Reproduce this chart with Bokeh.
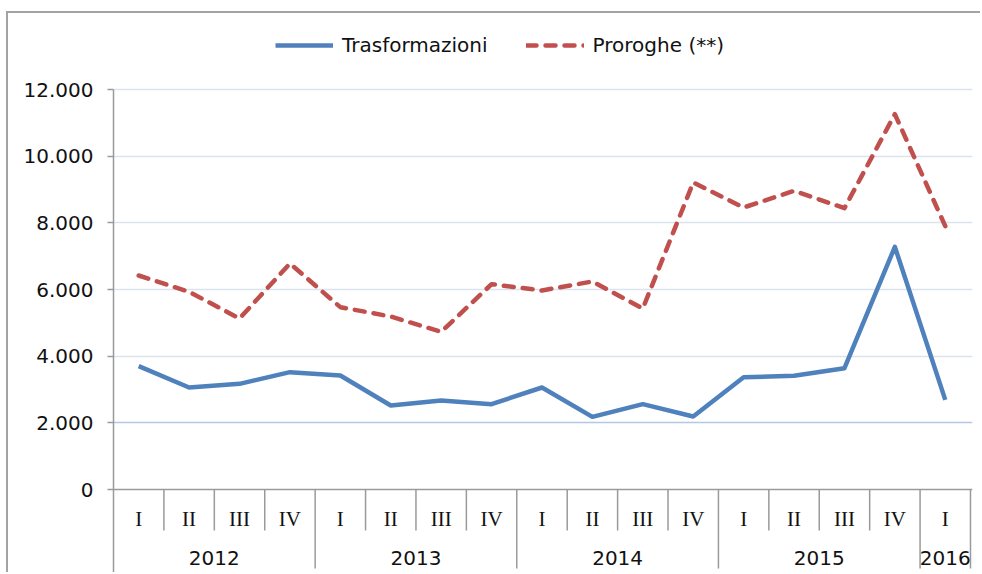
from bokeh.plotting import figure
from bokeh.models import Range1d, FixedTicker, Legend, LegendItem, Grid
from bokeh.core.properties import value
from bokeh.embed import file_html
from bokeh.resources import INLINE

# ---- data ----
years = ["2012", "2013", "2014", "2015", "2016"]
quarters_per_year = [4, 4, 4, 4, 1]
quarter_labels = ["I", "II", "III", "IV", "I", "II", "III", "IV", "I", "II", "III", "IV",
                  "I", "II", "III", "IV", "I"]
trasformazioni = [3700, 3060, 3170, 3520, 3420, 2520, 2670, 2560, 3060, 2180, 2560, 2190,
                  3370, 3410, 3640, 7280, 2690]
proroghe = [6420, 5930, 5130, 6780, 5470, 5190, 4730, 6160, 5970, 6240, 5430, 9210,
            8460, 8960, 8440, 11260, 7900]
y_ticks = [0, 2000, 4000, 6000, 8000, 10000, 12000]
y_tick_labels = ["0", "2.000", "4.000", "6.000", "8.000", "10.000", "12.000"]

FONT = "DejaVu Sans"
QFONT = "Liberation Serif"
BLUE = "#4f81bd"
RED = "#c0504d"
GRAY = "#9a9a9a"

n = len(quarter_labels)
xs = [i + 0.5 for i in range(n)]

# layout (canvas px); canvas placed at page (8, 13) by the css margins+border
W, H = 974, 561
UPP = 30                      # data units per pixel on y
ZERO_PX = 476                 # canvas y of value 0
y_top = ZERO_PX * UPP
y_bot = -(H - ZERO_PX) * UPP

p = figure(width=W, height=H, output_backend="svg", toolbar_location=None,
           x_range=Range1d(0, n + 0.04), y_range=Range1d(y_bot, y_top),
           x_axis_location=None, min_border_left=105, min_border_right=10,
           min_border_top=0, min_border_bottom=0)
p.styles = {"margin-left": "6px", "margin-top": "11px",
            "border-left": "2px solid #a3a3a3", "border-top": "2px solid #a3a3a3"}
p.outline_line_color = None
p.background_fill_color = "white"
p.border_fill_color = "white"
p.xgrid.visible = False
p.ygrid.visible = False

# grid lines
p.add_layout(Grid(dimension=1, ticker=FixedTicker(ticks=y_ticks[2:]),
                  grid_line_color="#dbe3f1", grid_line_width=1.5))
p.add_layout(Grid(dimension=1, ticker=FixedTicker(ticks=[y_ticks[1]]),
                  grid_line_color="#b3c7e8", grid_line_width=1.5))
p.add_layout(Grid(dimension=1, ticker=FixedTicker(ticks=[y_ticks[0]]),
                  grid_line_color=GRAY, grid_line_width=1.5))

# y axis
ax = p.yaxis[0]
ax.ticker = FixedTicker(ticks=y_ticks)
ax.major_label_overrides = {t: l for t, l in zip(y_ticks, y_tick_labels)}
ax.bounds = (y_bot, y_ticks[-1])
ax.axis_line_color = GRAY
ax.axis_line_width = 1.5
ax.major_tick_line_color = GRAY
ax.major_tick_line_width = 1.5
ax.major_tick_out = 6
ax.major_tick_in = 0
ax.minor_tick_line_color = None
ax.major_label_standoff = 14
ax.major_label_text_font = FONT
ax.major_label_text_font_size = "20px"
ax.major_label_text_color = "#111111"

# category separators
bounds = []
acc = 0
for q in quarters_per_year:
    acc += q
    bounds.append(acc)
q_sep = [i for i in range(1, n) if i not in bounds]
y_sep = bounds
p.segment(x0=q_sep, x1=q_sep, y0=[0] * len(q_sep), y1=[-41 * UPP] * len(q_sep),
          line_color=GRAY, line_width=1.5)
p.segment(x0=y_sep, x1=y_sep, y0=[0] * len(y_sep), y1=[-79 * UPP] * len(y_sep),
          line_color=GRAY, line_width=1.5)

# category labels
p.text(x=xs, y=[-29 * UPP] * n, text=quarter_labels, text_align="center",
       text_baseline="middle", text_font=value(QFONT), text_font_size="21px",
       text_color="#111111")
starts = [0] + bounds[:-1]
ycent = [(a + b) / 2 for a, b in zip(starts, bounds)]
p.text(x=ycent, y=[-68 * UPP] * len(years), text=years, text_align="center",
       text_baseline="middle", text_font=value(FONT), text_font_size="20px",
       text_color="#111111")

# series
r1 = p.line(xs, trasformazioni, line_color=BLUE, line_width=4.5, line_join="round")
r2 = p.line(xs, proroghe, line_color=RED, line_width=4.5, line_dash="10 9",
            line_cap="round", line_join="round")

legend = Legend(items=[LegendItem(label="Trasformazioni", renderers=[r1]),
                       LegendItem(label="Proroghe (**)", renderers=[r2])],
                location=(162, H - 44), orientation="horizontal", padding=0, margin=0,
                spacing=38, label_standoff=9, glyph_width=58, glyph_height=20,
                background_fill_alpha=0, border_line_color=None,
                label_text_font=FONT, label_text_font_size="20px",
                label_text_color="#111111")
p.add_layout(legend)

open("out.html", "w").write(file_html(p, INLINE))
